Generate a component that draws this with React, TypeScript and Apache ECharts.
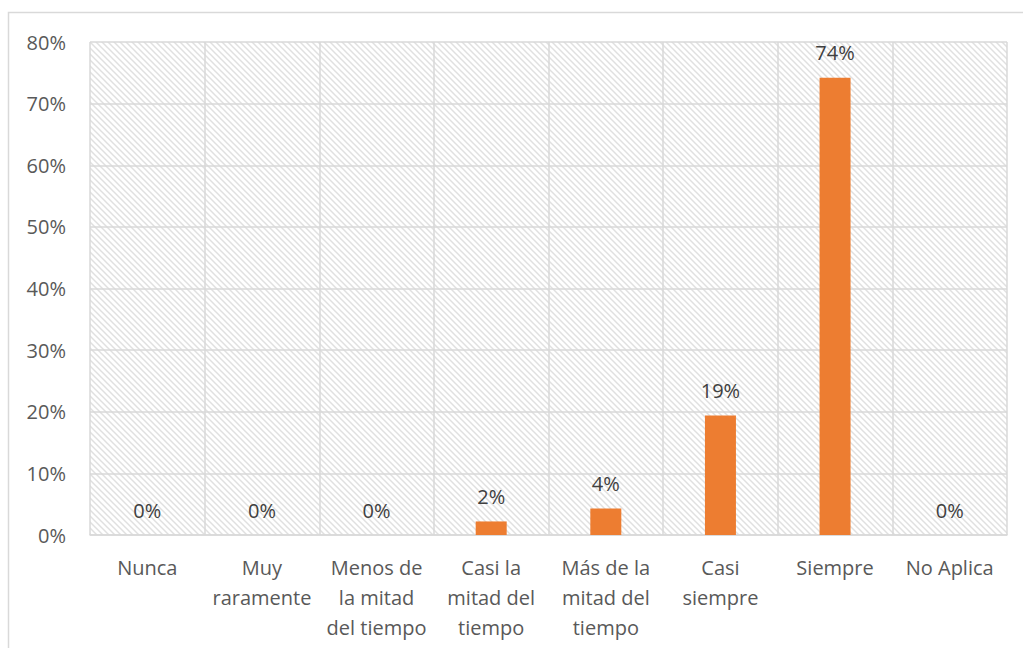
import React, { useEffect, useRef } from "react";
import * as echarts from "echarts";

const categories = [
  "Nunca",
  "Muy\nraramente",
  "Menos de\nla mitad\ndel tiempo",
  "Casi la\nmitad del\ntiempo",
  "Más de la\nmitad del\ntiempo",
  "Casi\nsiempre",
  "Siempre",
  "No Aplica",
];
const values = [0, 0, 0, 2.2, 4.3, 19.4, 74.2, 0];
const labels = ["0%", "0%", "0%", "2%", "4%", "19%", "74%", "0%"];
const yTicks = { min: 0, max: 80, interval: 10 };

const FONT = "'Open Sans', sans-serif";
const TEXT = "#595959";
const GRID = "#D9D9D9";

function makeHatch(): HTMLCanvasElement {
  const c = document.createElement("canvas");
  const s = 6;
  c.width = s;
  c.height = s;
  const ctx = c.getContext("2d")!;
  ctx.fillStyle = "#ffffff";
  ctx.fillRect(0, 0, s, s);
  ctx.strokeStyle = "#E0E0E0";
  ctx.lineWidth = 1.5;
  ctx.beginPath();
  ctx.moveTo(-1, -1);
  ctx.lineTo(s + 1, s + 1);
  ctx.moveTo(-1, s - 1);
  ctx.lineTo(1, s + 1);
  ctx.moveTo(s - 1, -1);
  ctx.lineTo(s + 1, 1);
  ctx.stroke();
  return c;
}

export default function App() {
  const ref = useRef<HTMLDivElement>(null);
  useEffect(() => {
    if (!ref.current) return;
    const chart = echarts.init(ref.current, undefined, { renderer: "svg" });
    const hatch = makeHatch();
    const left = 90;
    const top = 42;
    const right = 16;
    const bottom = 113;
    chart.setOption({
      animation: false,
      backgroundColor: "#ffffff",
      textStyle: { fontFamily: FONT },
      graphic: [
        {
          type: "rect",
          z: -10,
          silent: true,
          shape: { x: 8.5, y: 12.5, width: 1040, height: 700 },
          style: { fill: "#ffffff", stroke: GRID, lineWidth: 1.5 },
        },
        {
          type: "rect",
          z: -5,
          silent: true,
          shape: { x: left, y: top, width: 1023 - left - right, height: 648 - top - bottom },
          style: { fill: { image: hatch, repeat: "repeat" } as any },
        },
      ],
      grid: { left, right, top, bottom, containLabel: false },
      xAxis: {
        type: "category",
        data: categories,
        axisLine: { show: true, lineStyle: { color: GRID, width: 1.5 } },
        axisTick: { show: false },
        splitLine: { show: true, lineStyle: { color: GRID, width: 1.5 } },
        axisLabel: {
          color: TEXT,
          fontSize: 20,
          fontFamily: FONT,
          lineHeight: 30,
          margin: 17,
          interval: 0,
        },
      },
      yAxis: {
        type: "value",
        min: yTicks.min,
        max: yTicks.max,
        interval: yTicks.interval,
        axisLine: { show: false },
        axisTick: { show: false },
        splitLine: { show: true, lineStyle: { color: GRID, width: 1.5 } },
        axisLabel: {
          color: TEXT,
          fontSize: 20,
          fontFamily: FONT,
          margin: 24,
          formatter: (v: number) => `${v}%`,
        },
      },
      series: [
        {
          type: "bar",
          data: values,
          barWidth: 31,
          itemStyle: { color: "#ED7D31" },
          label: {
            show: true,
            position: "top",
            distance: 15,
            color: "#404040",
            fontSize: 20,
            fontFamily: FONT,
            formatter: (p: any) => labels[p.dataIndex],
          },
        },
      ],
    });
    return () => chart.dispose();
  }, []);
  return (
    <div
      ref={ref}
      style={{ width: 1023, height: 648, margin: -8, position: "absolute", top: 8, left: 8 }}
    />
  );
}
